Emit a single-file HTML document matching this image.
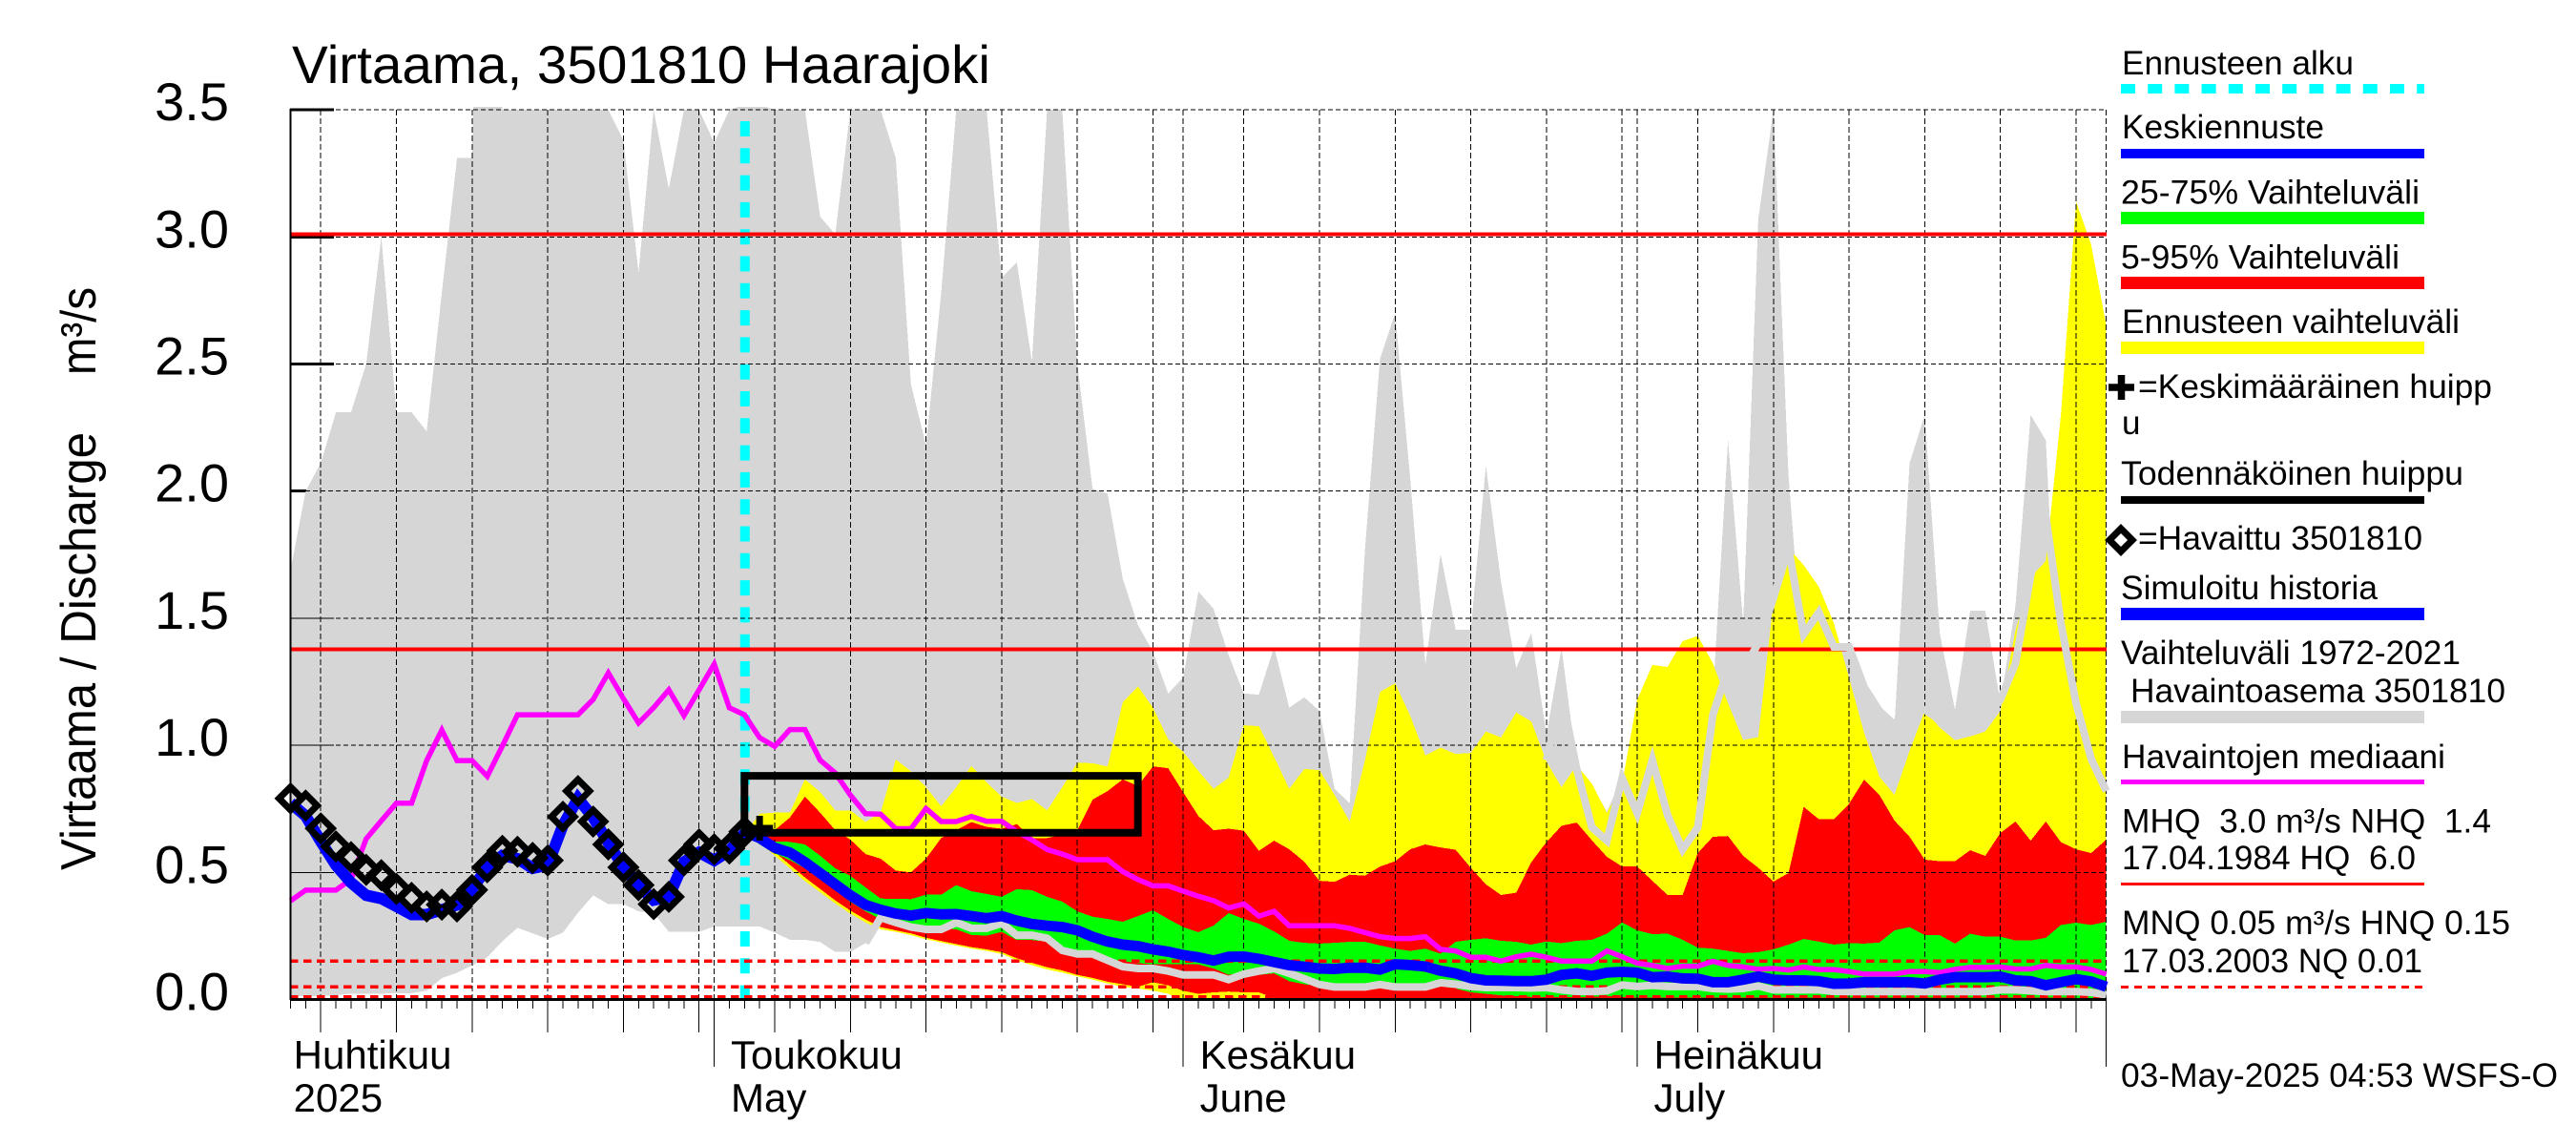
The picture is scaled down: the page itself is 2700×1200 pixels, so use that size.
<!DOCTYPE html>
<html lang="fi">
<head>
<meta charset="utf-8">
<title>Virtaama, 3501810 Haarajoki</title>
<style>
html,body{margin:0;padding:0;background:#fff;}
svg{display:block;}
text{font-family:"Liberation Sans",Arial,sans-serif;fill:#000;white-space:pre;}
.leg{font-size:35px;}
</style>
</head>
<body>
<svg id="chart" xmlns="http://www.w3.org/2000/svg" width="2700" height="1200" viewBox="0 0 2700 1200">
  <defs>
    <clipPath id="plot-top-clip"><rect x="296" y="112" width="1920" height="940"/></clipPath>
  </defs>
  <rect x="0" y="0" width="2700" height="1200" fill="#fff"/>
  <text x="306" y="87" font-size="56" textLength="732" lengthAdjust="spacingAndGlyphs">Virtaama, 3501810 Haarajoki</text>
  <text transform="translate(100,912) rotate(-90)" font-size="52" textLength="459" lengthAdjust="spacingAndGlyphs">Virtaama / Discharge</text>
  <text transform="translate(100,393) rotate(-90)" font-size="52" textLength="92" lengthAdjust="spacingAndGlyphs">m³/s</text>
  <g id="marks"></g>

  <g>
    <text class="leg" x="2224" y="78" textLength="243" lengthAdjust="spacingAndGlyphs">Ennusteen alku</text>
    <line x1="2223" x2="2541" y1="93" y2="93" stroke="#00ffff" stroke-width="10" stroke-dasharray="15 13.2"/>
    <text class="leg" x="2224" y="145" textLength="212" lengthAdjust="spacingAndGlyphs">Keskiennuste</text>
    <rect x="2223" y="156" width="318" height="10" fill="#0000ff"/>
    <text class="leg" x="2223" y="213.5" textLength="313" lengthAdjust="spacingAndGlyphs">25-75% Vaihteluväli</text>
    <rect x="2223" y="222" width="318" height="13" fill="#00ff00"/>
    <text class="leg" x="2223" y="281.5" textLength="292" lengthAdjust="spacingAndGlyphs">5-95% Vaihteluväli</text>
    <rect x="2223" y="290" width="318" height="13" fill="#ff0000"/>
    <text class="leg" x="2224" y="349" textLength="354" lengthAdjust="spacingAndGlyphs">Ennusteen vaihteluväli</text>
    <rect x="2223" y="358" width="318" height="13" fill="#ffff00"/>
    <path d="M2210 406H2237M2223.5 393V419" stroke="#000" stroke-width="7.5" fill="none"/>
    <text class="leg" x="2241" y="417" textLength="371" lengthAdjust="spacingAndGlyphs">=Keskimääräinen huipp</text>
    <text class="leg" x="2224" y="455">u</text>
    <text class="leg" x="2223" y="508" textLength="359" lengthAdjust="spacingAndGlyphs">Todennäköinen huippu</text>
    <rect x="2223" y="520" width="318" height="8" fill="#000"/>
    <path d="M2223 554L2235 566L2223 578L2211 566Z" stroke="#000" stroke-width="7" fill="none"/>
    <text class="leg" x="2241" y="576" textLength="298" lengthAdjust="spacingAndGlyphs">=Havaittu 3501810</text>
    <text class="leg" x="2223" y="628" textLength="269" lengthAdjust="spacingAndGlyphs">Simuloitu historia</text>
    <rect x="2223" y="637" width="318" height="13" fill="#0000ff"/>
    <text class="leg" x="2223" y="696" textLength="356" lengthAdjust="spacingAndGlyphs">Vaihteluväli 1972-2021</text>
    <text class="leg" x="2233" y="736" textLength="393" lengthAdjust="spacingAndGlyphs">Havaintoasema 3501810</text>
    <rect x="2223" y="745" width="318" height="13" fill="#d6d6d6"/>
    <text class="leg" x="2224" y="805" textLength="339" lengthAdjust="spacingAndGlyphs">Havaintojen mediaani</text>
    <rect x="2223" y="817" width="318" height="5" fill="#ff00ff"/>
    <text class="leg" x="2224" y="872.5" textLength="387" lengthAdjust="spacingAndGlyphs">MHQ  3.0 m³/s NHQ  1.4</text>
    <text class="leg" x="2224" y="911" textLength="308" lengthAdjust="spacingAndGlyphs">17.04.1984 HQ  6.0</text>
    <rect x="2223" y="925" width="318" height="3" fill="#ff0000"/>
    <text class="leg" x="2224" y="979" textLength="407" lengthAdjust="spacingAndGlyphs">MNQ 0.05 m³/s HNQ 0.15</text>
    <text class="leg" x="2224" y="1019" textLength="315" lengthAdjust="spacingAndGlyphs">17.03.2003 NQ 0.01</text>
    <line x1="2223" x2="2541" y1="1034.5" y2="1034.5" stroke="#ff0000" stroke-width="3" stroke-dasharray="8 6"/>
    <text class="leg" x="2223" y="1139" textLength="458" lengthAdjust="spacingAndGlyphs">03-May-2025 04:53 WSFS-O</text>
  </g>
</svg>

<script>
// ---- Axis tick data ----
const yTickValues = [0, 0.5, 1, 1.5, 2, 2.5, 3, 3.5];
const yTickLabels = ["0.0", "0.5", "1.0", "1.5", "2.0", "2.5", "3.0", "3.5"];
const gridDays = [2, 7, 12, 17, 22, 27, 28, 32, 37, 42, 47, 52, 57, 59, 63, 68, 73, 78, 83, 88, 89, 93, 98, 103, 108, 113, 118, 120];
const monthStartDays = [28, 59, 89, 120];
const monthLabelDays = [0.2, 29.1, 60.1, 90.1];
const monthLabelsFi = ["Huhtikuu", "Toukokuu", "Kesäkuu", "Heinäkuu"];
const monthLabelsEn = ["2025", "May", "June", "July"];
const dayCount = 121;
const forecastStartDay = 30;

// ---- Reference levels (m3/s) ----
const solidLevels = [3.01, 1.378];
const dashedLevels = [0.151, 0.05, 0.01];

// ---- Historical range 1972-2021 ----
const historyMax = [
1.69,2.0,2.11,2.31,2.31,2.50,3.0,2.31,2.31,2.235,
2.78,3.31,3.31,6.0,3.5,3.5,3.5,3.5,3.5,3.5,
3.5,3.5,3.38,2.86,3.5,3.19,3.5,3.5,3.37,3.5,
3.52,3.52,3.5,3.5,3.5,3.08,3.01,3.5,3.5,3.5,
3.31,2.42,2.18,2.78,3.5,3.5,3.5,2.84,2.9,2.51,
3.5,3.5,2.5,2.01,1.99,1.655,1.473,1.368,1.204,1.267,
1.605,1.537,1.354,1.204,1.199,1.387,1.148,1.189,1.135,.829,
.772,1.767,2.52,2.70,2.05,1.317,1.752,1.455,1.455,2.10,
1.642,1.304,1.442,1.042,1.383,.922,.84,.74,.871,.72,
.937,.733,.59,.677,1.19,2.2,1.48,3.07,3.5,2.06,
1.3,1.3,1.387,1.387,1.237,1.135,1.08,2.11,2.30,1.44,
1.14,1.53,1.53,1.165,1.55,2.30,2.2,1.0,.8,.7,.6];
const historyMin = [
.014,.014,.014,.017,.023,.023,.023,.025,.025,.034,
.084,.105,.134,.166,.229,.282,.26,.238,.263,.341,
.41,.375,.375,.347,.341,.266,.266,.266,.287,.287,
.287,.287,.263,.235,.235,.226,.187,.187,.222,.322,
.303,.285,.276,.276,.303,.28,.28,.3,.253,.253,
.241,.193,.179,.179,.154,.129,.122,.122,.112,.097,
.097,.097,.078,.1,.112,.122,.103,.082,.059,.049,
.049,.049,.059,.049,.049,.049,.066,.06,.051,.047,
.047,.047,.045,.047,.038,.032,.031,.034,.057,.051,
.056,.051,.051,.051,.043,.041,.043,.053,.038,.038,
.038,.038,.032,.031,.031,.031,.031,.031,.031,.031,
.031,.031,.031,.038,.038,.034,.031,.031,.031,.028,.018];
const historyMinLineStartDay = 38;
const historyTraceStartDay = 83;
const historyTrace = [
.942,1.2,.906,.677,.625,.871,.733,.942,.726,.59,
.677,1.12,1.3,1.3,1.4,1.58,1.775,1.437,1.523,1.387,
1.387,1.229,1.135,1.08,1.15,1.14,1.1,1.05,1.08,1.1,
1.18,1.323,1.668,1.9,1.48,1.165,.947,.82];
const medianFlow = [
.388,.43,.43,.43,.473,.632,.703,.772,.772,.94,
1.06,.94,.94,.878,.997,1.12,1.12,1.12,1.12,1.12,
1.18,1.285,1.184,1.088,1.148,1.218,1.117,1.218,1.32,1.148,
1.12,1.03,.996,1.062,1.062,.942,.891,.804,.731,.729,
.672,.672,.751,.7,.7,.72,.701,.701,.66,.628,
.59,.572,.55,.55,.55,.503,.472,.447,.447,.426,
.406,.389,.36,.376,.328,.347,.29,.29,.29,.29,
.28,.263,.247,.24,.24,.247,.197,.191,.166,.166,
.151,.168,.178,.166,.151,.151,.151,.191,.168,.143,
.134,.122,.131,.131,.15,.134,.128,.119,.122,.116,
.128,.118,.118,.11,.1,.1,.1,.11,.11,.106,
.119,.126,.126,.128,.12,.12,.134,.128,.128,.118,.1];

// ---- Observed and simulated, day 0..30 ----
const observedFlow = [
.791,.763,.673,.602,.56,.51,.489,.435,.4,.366,
.373,.366,.431,.52,.585,.581,.557,.547,.719,.82,
.70,.61,.52,.45,.375,.404,.547,.61,.591,.594,.66];
const simulatedFlow = [
.773,.722,.622,.528,.46,.41,.397,.366,.334,.334,
.353,.372,.435,.519,.566,.554,.516,.529,.685,.791,
.716,.616,.522,.447,.391,.404,.541,.579,.547,.585,.654];

// ---- Forecast series, day 30..120 ----
const forecastMaxTop = [
.65,.731,.735,.735,.866,.816,.744,.744,.698,.735,
.944,.898,.835,.76,.835,.919,.854,.798,.773,.789,
.744,.835,.932,.929,.917,1.169,1.232,1.148,1.023,.974,
.899,.829,.873,1.079,1.075,.955,.829,.907,.902,.805,
.70,.94,1.21,1.244,1.116,.96,.991,.966,.97,1.054,
1.031,1.129,1.094,.936,.835,.922,.849,.734,.85,1.179,
1.316,1.308,1.41,1.43,1.323,1.165,1.021,1.032,1.567,1.775,
1.709,1.624,1.48,1.265,1.049,.877,.805,.978,1.135,1.07,
1.02,1.035,1.054,1.135,1.452,1.661,1.725,2.3,3.14,2.97,2.65];
const forecastP95 = [
.65,.64,.666,.716,.798,.735,.666,.629,.572,.554,
.507,.5,.554,.635,.666,.698,.679,.672,.69,.635,
.635,.648,.666,.786,.82,.866,.84,.917,.91,.815,
.722,.666,.672,.664,.585,.625,.591,.542,.467,.463,
.491,.487,.523,.544,.591,.61,.598,.589,.518,.453,
.411,.42,.54,.619,.683,.696,.626,.561,.523,.523,
.467,.411,.411,.576,.64,.643,.565,.518,.464,.497,
.758,.709,.709,.77,.865,.805,.704,.64,.55,.544,
.544,.587,.565,.655,.70,.625,.70,.619,.591,.576,.629];
const forecastP75 = [
.65,.635,.622,.62,.61,.566,.516,.486,.441,.397,
.396,.395,.412,.412,.45,.426,.415,.404,.434,.43,
.404,.385,.347,.326,.317,.306,.328,.351,.317,.285,
.265,.291,.34,.317,.298,.268,.231,.223,.22,.223,
.227,.227,.213,.2,.191,.2,.18,.227,.235,.241,
.231,.227,.216,.228,.222,.231,.235,.259,.303,.272,
.257,.259,.235,.204,.2,.191,.182,.186,.197,.216,
.238,.228,.216,.222,.22,.224,.272,.285,.253,.253,
.22,.259,.247,.247,.232,.232,.243,.293,.302,.293,.306];
const forecastMean = [
.66,.635,.597,.578,.54,.497,.453,.41,.372,.353,
.338,.33,.34,.335,.336,.328,.32,.328,.31,.297,
.29,.285,.272,.247,.228,.216,.21,.197,.188,.175,
.166,.153,.168,.169,.16,.147,.135,.129,.122,.12,
.125,.125,.118,.139,.135,.13,.113,.103,.084,.075,
.074,.072,.072,.078,.097,.103,.093,.106,.109,.106,
.088,.09,.083,.082,.068,.068,.078,.09,.078,.075,
.075,.072,.062,.063,.068,.068,.068,.068,.063,.078,
.088,.088,.088,.09,.075,.072,.056,.068,.08,.071,.05];
const forecastP25 = [
.65,.61,.575,.548,.516,.472,.429,.384,.347,.316,
.303,.285,.276,.28,.276,.254,.251,.266,.234,.234,
.228,.184,.18,.18,.16,.151,.143,.138,.138,.138,
.138,.122,.097,.109,.097,.103,.072,.06,.053,.04,
.04,.04,.045,.045,.04,.04,.053,.043,.028,.022,
.016,.013,.01,.01,.01,.01,.01,.013,.01,.008,
.008,.008,.008,.008,.008,.008,.008,.008,.008,.008,
.008,.008,.008,.008,.008,.008,.008,.008,.008,.008,
.008,.008,.008,.008,.008,.008,.008,.008,.006,.005,.003];
const forecastP05 = [
.65,.625,.58,.53,.48,.435,.39,.35,.315,.285,
.272,.26,.243,.23,.218,.206,.197,.186,.162,.144,
.127,.114,.097,.085,.07,.06,.05,.068,.056,.034,
.022,.028,.031,.028,.028,.006,0,0,0,0,
0,0,0,0,0,0,0,0,0,0,
0,0,0,0,0,0,0,0,0,0,
0,0,0,0,0,0,0,0,0,0,
0,0,0,0,0,0,0,0,0,0,
0,0,0,0,0,0,0,0,0,0,0];
const forecastMinBottom = [
.65,.616,.566,.516,.466,.422,.378,.338,.303,.276,
.266,.253,.237,.224,.212,.2,.191,.179,.154,.135,
.118,.106,.091,.078,.063,.05,.043,.035,.022,0,
0,0,0,0,0,0,0,0,0,0,
0,0,0,0,0,0,0,0,0,0,
0,0,0,0,0,0,0,0,0,0,
0,0,0,0,0,0,0,0,0,0,
0,0,0,0,0,0,0,0,0,0,
0,0,0,0,0,0,0,0,0,0,0];

// ---- Peak estimate ----
const likelyPeakStartDay = 30;
const likelyPeakEndDay = 56;
const likelyPeakLow = 0.656;
const likelyPeakHigh = 0.88;
const meanPeakDay = 31;
const meanPeakValue = 0.674;

// ---- Axis functions ----
function xOf(day) { return 304.5 + 15.86 * day; }
function yOf(value) { return 1047.5 - 266.4 * value; }

const NS = 'http://www.w3.org/2000/svg';
const root = document.getElementById('marks');
function make(tag, props) {
  const node = document.createElementNS(NS, tag);
  for (const key in props) node.setAttribute(key, props[key]);
  root.appendChild(node);
  return node;
}
function pointsOf(values, startDay) {
  return values.map(function (v, i) {
    return xOf(startDay + i).toFixed(1) + ',' + yOf(v).toFixed(1);
  });
}
function areaPoints(top, bottom, startDay) {
  return pointsOf(top, startDay).concat(pointsOf(bottom, startDay).reverse()).join(' ');
}

// y ticks beneath the historical band
yTickValues.forEach(function (v) {
  const el = make('line', {x1: 304, x2: 350, y1: yOf(v), y2: yOf(v), stroke: '#000', 'stroke-width': 3, 'shape-rendering': 'crispEdges'});
  
  
});
yTickValues.forEach(function (v, i) {
  const el = make('text', {x: 240, y: yOf(v) + 11, 'text-anchor': 'end', 'font-size': 56});
  el.textContent = yTickLabels[i];
  
  
});

// historical band
const bandEl = make('polygon', {points: areaPoints(historyMax, historyMin, 0), fill: '#d6d6d6', 'shape-rendering': 'crispEdges', 'clip-path': 'url(#plot-top-clip)'});



// forecast start marker
const startEl = make('line', {x1: xOf(forecastStartDay) + 0.5, x2: xOf(forecastStartDay) + 0.5, y1: 127, y2: 1047, stroke: '#00ffff', 'stroke-width': 10, 'stroke-dasharray': '16 12.3'});



// forecast ranges
const yellowEl = make('polygon', {points: areaPoints(forecastMaxTop, forecastMinBottom, forecastStartDay), fill: '#ffff00', 'shape-rendering': 'crispEdges'});


const redEl = make('polygon', {points: areaPoints(forecastP95, forecastP05, forecastStartDay), fill: '#ff0000', 'shape-rendering': 'crispEdges'});


const greenEl = make('polygon', {points: areaPoints(forecastP75, forecastP25, forecastStartDay), fill: '#00ff00', 'shape-rendering': 'crispEdges'});



// grid
yTickValues.slice(1).forEach(function (v) {
  const el = make('line', {x1: 304, x2: 2208, y1: yOf(v), y2: yOf(v), stroke: '#000', 'stroke-width': 1, 'stroke-dasharray': '5 3', 'shape-rendering': 'crispEdges'});
  
  
});
yTickValues.slice(1, 4).forEach(function (v) {
  const el = make('line', {x1: 304, x2: 350, y1: yOf(v), y2: yOf(v), stroke: '#000', 'stroke-width': 1, 'shape-rendering': 'crispEdges'});
  
  
});
gridDays.forEach(function (d) {
  const el = make('line', {x1: xOf(d), x2: xOf(d), y1: 115, y2: 1047, stroke: '#000', 'stroke-width': 1, 'stroke-dasharray': '6 3', 'shape-rendering': 'crispEdges'});
  
  
});

// reference levels
solidLevels.forEach(function (v) {
  const el = make('line', {x1: 304, x2: 2208, y1: yOf(v), y2: yOf(v), stroke: '#ff0000', 'stroke-width': 4, 'shape-rendering': 'crispEdges'});
  
  
});
dashedLevels.forEach(function (v) {
  const el = make('line', {x1: 304, x2: 2208, y1: yOf(v), y2: yOf(v), stroke: '#ff0000', 'stroke-width': 3.5, 'stroke-dasharray': '8.3 5.7', 'shape-rendering': 'crispEdges'});
  
  
});

// gray traces
const minLineEl = make('polyline', {points: pointsOf(historyMin.slice(historyMinLineStartDay), historyMinLineStartDay).join(' '), fill: 'none', stroke: '#d6d6d6', 'stroke-width': 8});


const traceEl = make('polyline', {points: pointsOf(historyTrace, historyTraceStartDay).join(' '), fill: 'none', stroke: '#d6d6d6', 'stroke-width': 8});



// median
const medianEl = make('polyline', {points: pointsOf(medianFlow, 0).join(' '), fill: 'none', stroke: '#ff00ff', 'stroke-width': 5.5});



// simulated + mean forecast
const simEl = make('polyline', {points: pointsOf(simulatedFlow, 0).join(' '), fill: 'none', stroke: '#0000ff', 'stroke-width': 12});


const meanEl = make('polyline', {points: pointsOf(forecastMean, forecastStartDay).join(' '), fill: 'none', stroke: '#0000ff', 'stroke-width': 11});



// peak box and mean peak marker
const peakPath = 'M' + xOf(likelyPeakStartDay) + ' ' + yOf(likelyPeakHigh) +
  'H' + xOf(likelyPeakEndDay) + 'V' + yOf(likelyPeakLow) + 'H' + xOf(likelyPeakStartDay) + 'Z';
const peakEl = make('path', {d: peakPath, fill: 'none', stroke: '#000', 'stroke-width': 8});


const px = xOf(meanPeakDay), py = yOf(meanPeakValue);
const plusEl = make('path', {d: 'M' + (px - 14) + ' ' + py + 'H' + (px + 14) + 'M' + px + ' ' + (py - 13) + 'V' + (py + 13), fill: 'none', stroke: '#000', 'stroke-width': 7});



// observed diamonds
observedFlow.forEach(function (v, i) {
  const cx = xOf(i), cy = yOf(v), r = 12;
  const el = make('path', {d: 'M' + cx + ' ' + (cy - r) + 'L' + (cx + r) + ' ' + cy + 'L' + cx + ' ' + (cy + r) + 'L' + (cx - r) + ' ' + cy + 'Z', fill: 'none', stroke: '#000', 'stroke-width': 7});
  
  
});

// axes
const leftAxisEl = make('line', {x1: 304.5, x2: 304.5, y1: 114, y2: 1048, stroke: '#000', 'stroke-width': 2, 'shape-rendering': 'crispEdges'});


const bottomAxisEl = make('line', {x1: 304, x2: 2208, y1: 1047.5, y2: 1047.5, stroke: '#000', 'stroke-width': 3, 'shape-rendering': 'crispEdges'});


for (let d = 0; d < dayCount; d++) {
  const el = make('line', {x1: xOf(d), x2: xOf(d), y1: 1047, y2: 1057, stroke: '#000', 'stroke-width': 1, 'shape-rendering': 'crispEdges'});
  
  
}
gridDays.forEach(function (d) {
  const el = make('line', {x1: xOf(d), x2: xOf(d), y1: 1047, y2: 1082, stroke: '#000', 'stroke-width': 1, 'shape-rendering': 'crispEdges'});
  
  
});
monthStartDays.forEach(function (d) {
  const el = make('line', {x1: xOf(d), x2: xOf(d), y1: 1047, y2: 1118, stroke: '#000', 'stroke-width': 1, 'shape-rendering': 'crispEdges'});
  
  
});
monthLabelDays.forEach(function (d, i) {
  const fi = make('text', {x: xOf(d), y: 1120, 'font-size': 42});
  fi.textContent = monthLabelsFi[i];
  
  
  const en = make('text', {x: xOf(d), y: 1165, 'font-size': 42});
  en.textContent = monthLabelsEn[i];
  
  
});
</script>
</body>
</html>
